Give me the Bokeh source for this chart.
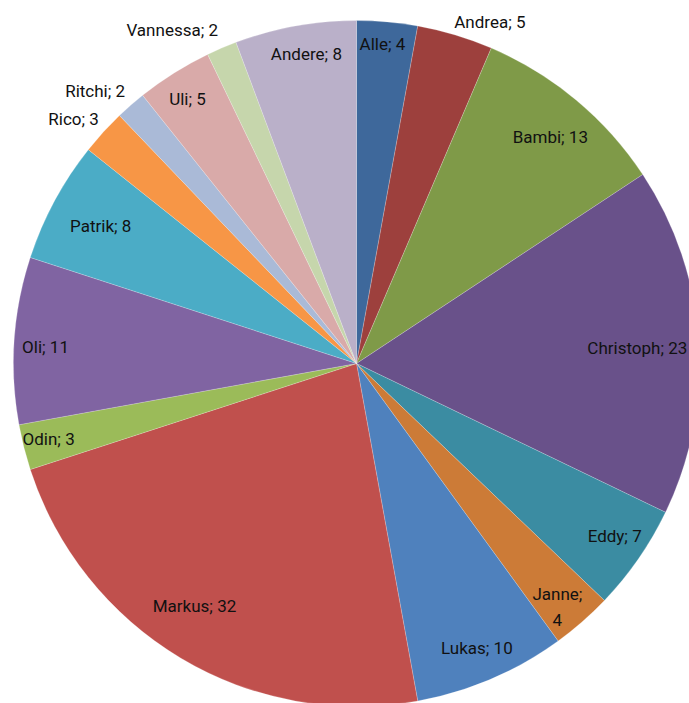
import math
from bokeh.plotting import figure
from bokeh.models import Range1d, ColumnDataSource
from bokeh.embed import file_html
from bokeh.resources import INLINE
from bokeh.core.properties import value

# ---- data ----
names = ["Alle", "Andrea", "Bambi", "Christoph", "Eddy", "Janne", "Lukas", "Markus",
         "Odin", "Oli", "Patrik", "Rico", "Ritchi", "Uli", "Vannessa", "Andere"]
counts = [4, 5, 13, 23, 7, 4, 10, 32, 3, 11, 8, 3, 2, 5, 2, 8]
colors = ["#3E689B", "#9D403D", "#7F9A48", "#69518A", "#3B8CA2", "#CC7B37",
          "#4F81BD", "#C0504D", "#9BBB59", "#8064A2", "#4BACC6", "#F79646",
          "#AABAD7", "#D9AAA9", "#C6D6AC", "#BAB0C9"]
separators = ["; "] * 5 + [";\n"] + ["; "] * 10

# ---- label placement (style) ----
label_radius = [0.936, 1.07, 0.869, 0.82, 0.906, 0.92, 0.90, 0.85,
                0.924, 0.908, 0.846, 1.09, 1.10, 0.916, 1.11, 0.915]
label_nudge = [-0.5, 4.6, 0.7, 0.8, -0.9, 1.6, 0.2, 2.9,
               0.4, -0.8, -0.1, -1.6, -2.7, -0.4, -5.8, 1.1]

CX, CY, R = 356, -363, 343
total = float(sum(counts))

starts, ends, lx, ly, labels = [], [], [], [], []
cum = 0.0
for i, c in enumerate(counts):
    a0 = cum / total * 2 * math.pi
    cum += c
    a1 = cum / total * 2 * math.pi
    starts.append(math.pi / 2 - a0)
    ends.append(math.pi / 2 - a1)
    mid = (a0 + a1) / 2 + math.radians(label_nudge[i])
    r = R * label_radius[i]
    lx.append(CX + r * math.sin(mid))
    ly.append(CY + r * math.cos(mid))
    labels.append(f"{names[i]}{separators[i]}{c}")

src = ColumnDataSource(dict(start=starts, end=ends, color=colors, x=lx, y=ly, label=labels))

p = figure(width=689, height=703, output_backend="svg", toolbar_location=None,
           x_range=Range1d(0, 689), y_range=Range1d(-703, 0),
           min_border=0, outline_line_color=None, background_fill_color="white")
p.axis.visible = False
p.grid.visible = False

p.wedge(x=CX, y=CY, radius=R, start_angle="start", end_angle="end", direction="clock",
        fill_color="color", line_color="white", line_width=0.5, line_alpha=0.4, source=src)

p.text(x="x", y="y", text="label", source=src, text_align="center", text_baseline="middle",
       text_font=value("Roboto"), text_font_size="17px", text_color="#111111",
       text_line_height=1.3)

open("out.html", "w").write(file_html(p, INLINE))
